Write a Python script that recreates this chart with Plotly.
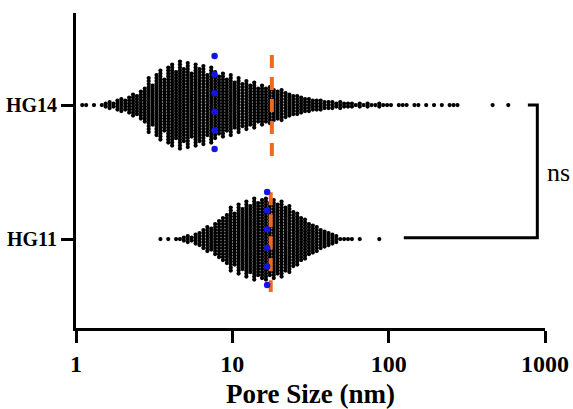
import numpy as np
import plotly.graph_objects as go

# ---- data ----
groups = ["HG11", "HG14"]              # category order bottom -> top
group_pos = [0, 1]

# swarm columns: counts of points per log-spaced column (step 0.025 decade)
hg14_start_log = 0.04
hg14_counts = [1, 1, 0, 1, 0, 1, 2, 3, 2, 4,
               5, 4, 6, 8, 7, 10, 12, 19, 14, 21,
               24, 18, 26, 28, 23, 30, 25, 29, 22, 28,
               25, 27, 21, 26, 23, 20, 22, 18, 21, 16,
               19, 15, 17, 14, 16, 12, 14, 12, 13, 11,
               10, 11, 9, 8, 7, 7, 6, 5, 5, 4,
               4, 4, 3, 3, 3, 2, 3, 2, 2, 2,
               1, 2, 1, 2, 1, 1, 2, 1, 1, 1,
               0, 1, 1, 1, 0, 1, 1, 0, 1, 0,
               1, 0, 1, 0, 1, 1, 1, 0, 0, 0,
               0, 0, 0, 0, 0, 1, 0, 0, 0, 1]
hg11_start_log = 0.54
hg11_counts = [1, 0, 1, 0, 1, 1, 2, 3, 2, 4,
               5, 7, 9, 8, 11, 13, 15, 17, 22, 18,
               24, 21, 26, 23, 28, 25, 27, 28, 25, 27,
               24, 26, 22, 23, 19, 18, 15, 14, 11, 10,
               9, 7, 6, 5, 4, 3, 1, 1, 1, 1,
               0, 1, 0, 0, 0, 0, 1]
col_step_log = 0.025

medians = [16.7, 7.7]    # HG11, HG14 (blue dotted)
means = [17.6, 17.9]     # HG11, HG14 (orange dashed)

x_tick_vals = [1, 10, 100, 1000]
x_tick_text = ["1", "10", "100", "1000"]

# ---- build swarm ----
DY = 0.0224
xs, ys = [], []
for start, counts, yp in [(hg11_start_log, hg11_counts, 0), (hg14_start_log, hg14_counts, 1)]:
    for i, n in enumerate(counts):
        xv = 10 ** (start + col_step_log * i)
        for k in range(n):
            xs.append(xv)
            ys.append(yp + (k - (n - 1) / 2) * DY)

fig = go.Figure()
fig.add_trace(go.Scatter(x=xs, y=ys, mode="markers",
                         marker=dict(color="black", size=4.2, line=dict(width=0)),
                         hoverinfo="skip"))

# mean lines (orange dashed)
for m, yp, top, bot in zip(means, group_pos, [0.35, 0.373], [-0.396, -0.41]):
    fig.add_trace(go.Scatter(x=[m, m], y=[yp + top, yp + bot], mode="lines",
                             line=dict(color="#F06A1E", width=4, dash="13px,9px"),
                             hoverinfo="skip"))

# median (blue dots)
for md, yp, shift in zip(medians, group_pos, [0.004, 0.019]):
    yy = list(np.linspace(yp + shift + 0.347, yp + shift - 0.347, 6))
    fig.add_trace(go.Scatter(x=[md] * 6, y=yy, mode="markers",
                             marker=dict(color="#1414E6", size=6.5, line=dict(width=0)),
                             hoverinfo="skip"))

# significance bracket
fig.add_trace(go.Scatter(x=[777, 893, 893, 125], y=[1, 1, 0.01, 0.01], mode="lines",
                         line=dict(color="black", width=3), hoverinfo="skip"))

fig.add_annotation(text="ns", xref="paper", yref="y", x=1.0, y=0.5,
                   xanchor="left", yanchor="middle", showarrow=False,
                   font=dict(family="Liberation Serif", size=26, color="black"))

serif = "Liberation Serif"
fig.update_layout(
    width=573, height=409,
    margin=dict(l=76, r=28, t=13, b=81),
    plot_bgcolor="white", paper_bgcolor="white",
    showlegend=False,
    xaxis=dict(type="log", range=[0, 3], tickvals=x_tick_vals, ticktext=x_tick_text,
               automargin=False,
               showline=True, linecolor="black", linewidth=3, mirror=False,
               ticks="outside", ticklen=12, tickwidth=3, tickcolor="black",
               showgrid=False, zeroline=False,
               tickfont=dict(family=serif, size=24, color="black", weight="bold"),
               title=dict(text="Pore Size (nm)", standoff=14,
                          font=dict(family=serif, size=27, color="black", weight="bold"))),
    yaxis=dict(range=[-0.664, 1.687], tickvals=group_pos, ticktext=groups,
               automargin=False,
               showline=True, linecolor="black", linewidth=3,
               ticks="outside", ticklen=12, tickwidth=3, tickcolor="black",
               showgrid=False, zeroline=False,
               tickfont=dict(family=serif, size=20, color="black", weight="bold")),
)

fig.write_html("out.html")
